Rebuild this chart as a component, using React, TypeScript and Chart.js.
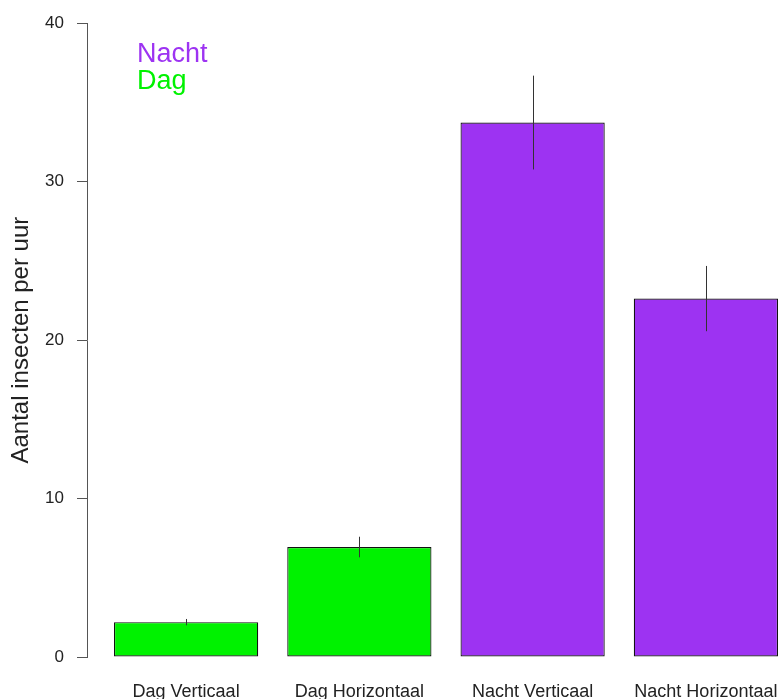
import React, { useEffect, useRef } from "react";
import { Chart, registerables } from "chart.js";

Chart.register(...registerables);

const categories = ["Dag Verticaal", "Dag Horizontaal", "Nacht Verticaal", "Nacht Horizontaal"];
const means = [2.2, 6.94, 33.73, 22.62];
const errors = [0.2, 0.65, 2.96, 2.06];
const barColors = ["#00F200", "#00F200", "#9D33F2", "#9D33F2"];
const legendLabels = ["Nacht", "Dag"];
const legendColors = ["#9D33F2", "#00F200"];
const yTicks = [0, 10, 20, 30, 40];

const FONT = "'Liberation Sans', Arial, Helvetica, sans-serif";

const errorBarPlugin = {
  id: "errorBars",
  afterDatasetsDraw(chart: any) {
    const { ctx, scales } = chart;
    const xs = scales.x;
    const ys = scales.y;
    ctx.save();
    ctx.strokeStyle = "#333333";
    ctx.lineWidth = 1;
    means.forEach((m, i) => {
      const x = Math.round(xs.getPixelForValue(i)) + 0.5;
      const y1 = ys.getPixelForValue(m - errors[i]);
      const y2 = ys.getPixelForValue(m + errors[i]);
      ctx.beginPath();
      ctx.moveTo(x, y1);
      ctx.lineTo(x, y2);
      ctx.stroke();
    });
    ctx.restore();
  },
};

const textLegendPlugin = {
  id: "textLegend",
  afterDraw(chart: any) {
    const { ctx, chartArea } = chart;
    ctx.save();
    ctx.font = `27px ${FONT}`;
    ctx.textAlign = "left";
    ctx.textBaseline = "alphabetic";
    legendLabels.forEach((lab, i) => {
      ctx.fillStyle = legendColors[i];
      ctx.fillText(lab, chartArea.left + 50, chartArea.top + 39 + i * 27);
    });
    ctx.restore();
  },
};

export default function App() {
  const ref = useRef<HTMLCanvasElement | null>(null);

  useEffect(() => {
    if (!ref.current) return;
    const chart = new Chart(ref.current, {
      type: "bar",
      data: {
        datasets: [
          {
            data: means.map((v, i) => ({ x: i, y: v })),
            backgroundColor: barColors,
            borderColor: "#111111",
            borderWidth: 1.2,
            borderSkipped: false,
            categoryPercentage: 1,
            barPercentage: 144 / 173,
          },
        ],
      },
      options: {
        animation: false,
        responsive: false,
        layout: { padding: { top: 21, right: 0, left: 0, bottom: 0 } },
        plugins: {
          legend: { display: false },
          tooltip: { enabled: false },
        },
        scales: {
          x: {
            type: "linear",
            offset: false,
            min: -0.572,
            max: 3.422,
            grid: { display: false, drawTicks: false, offset: false },
            border: { display: false },
            afterBuildTicks: (scale: any) => {
              scale.ticks = categories.map((_, i) => ({ value: i }));
            },
            afterFit: (scale: any) => {
              scale.height = 42;
              scale.paddingLeft = 0;
              scale.paddingRight = 0;
            },
            ticks: {
              autoSkip: false,
              maxRotation: 0,
              padding: 24,
              color: "#222222",
              font: { family: FONT, size: 18 },
              callback: (value: any) => categories[value as number] ?? "",
            },
          },
          y: {
            min: 0,
            max: 40,
            afterBuildTicks: (scale: any) => {
              scale.ticks = yTicks.map((v) => ({ value: v }));
            },
            afterFit: (scale: any) => {
              scale.width = 87;
            },
            grid: {
              display: true,
              drawOnChartArea: false,
              drawTicks: true,
              tickLength: 10,
              color: "#555555",
            },
            border: { display: true, color: "#555555", width: 1 },
            ticks: {
              padding: 13,
              color: "#222222",
              font: { family: FONT, size: 17 },
            },
            title: {
              display: true,
              text: "Aantal insecten per uur",
              color: "#222222",
              font: { family: FONT, size: 24 },
              padding: { top: 7, bottom: 4 },
            },
          },
        },
      },
      plugins: [errorBarPlugin, textLegendPlugin],
    } as any);
    return () => chart.destroy();
  }, []);

  return (
    <div style={{ position: "fixed", left: 0, top: 0, width: 779, height: 699, background: "#fff" }}>
      <canvas ref={ref} width={779} height={699} style={{ display: "block" }} />
    </div>
  );
}
